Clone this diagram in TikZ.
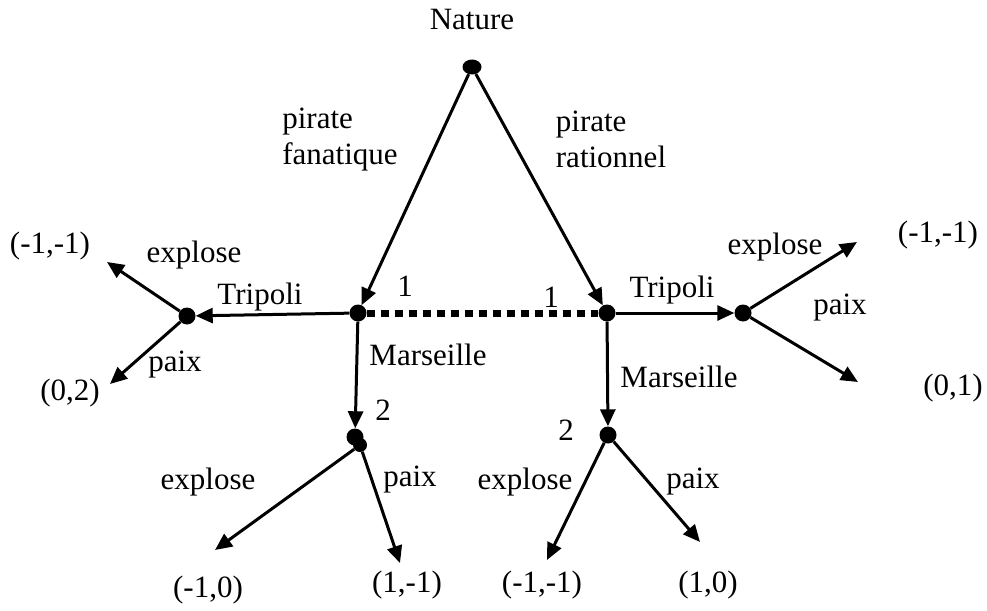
\documentclass[tikz,border=0pt]{standalone}
\usepackage{fontspec}
\setmainfont{Liberation Serif}
\usetikzlibrary{arrows.meta,shapes.geometric}
\begin{document}
\begin{tikzpicture}[x=1pt,y=-1pt,
  every node/.style={font=\fontsize{31}{36}\selectfont},
  dot/.style={circle,fill=black,inner sep=0pt,minimum size=17pt},
  edge/.style={line width=3pt,-{Triangle[length=17pt,width=15pt]}},
  lbl/.style={inner sep=0pt}]
\useasboundingbox (0,0) rectangle (987,610);
% decision nodes
\node[dot,ellipse,minimum width=19pt,minimum height=15pt] (N) at (472,67) {};
\node[dot] (L1) at (358,313) {};
\node[dot] (R1) at (607,313) {};
\node[dot] (LT) at (187,316) {};
\node[dot] (RT) at (743,313) {};
\node[dot] (L2) at (355,437) {};
\node[dot,minimum size=14pt] (L2b) at (360,445) {};
\node[dot] (R2) at (608,435) {};
% leaf tips
\coordinate (LTe) at (107,262);
\coordinate (LTp) at (110,384);
\coordinate (RTe) at (857,242);
\coordinate (RTp) at (858,382);
\coordinate (L2e) at (215,550);
\coordinate (L2p) at (400,563);
\coordinate (R2e) at (547,560);
\coordinate (R2p) at (700,542);
% information set
\draw[line width=7pt,dash pattern=on 8pt off 6pt] (L1) -- (R1);
% edges
\draw[edge] (N) -- (L1);
\draw[edge] (N) -- (R1);
\draw[edge] (L1) -- (LT);
\draw[edge] (R1) -- (RT);
\draw[edge] (L1) -- (L2);
\draw[edge] (R1) -- (R2);
\draw[edge] (LT) -- (LTe);
\draw[edge] (LT) -- (LTp);
\draw[edge] (RT) -- (RTe);
\draw[edge] (RT) -- (RTp);
\draw[edge] (L2b) -- (L2e);
\draw[edge] (L2b) -- (L2p);
\draw[edge] (R2) -- (R2e);
\draw[edge] (R2) -- (R2p);
% labels
\node[lbl] (tN) at (472,20) {Nature};
\node[lbl,align=left] (tPF) at (340,140) {pirate\\fanatique};
\node[lbl,align=left] (tPR) at (611,139) {pirate\\rationnel};
\node[lbl] (t1a) at (405,286) {1};
\node[lbl] (t1b) at (551,297) {1};
\node[lbl] (tTl) at (260,297) {Tripoli};
\node[lbl] (tTr) at (672,290) {Tripoli};
\node[lbl] (tLe) at (194,255) {explose};
\node[lbl] (tLp) at (175,365) {paix};
\node[lbl] (oLe) at (50,246) {(-1,-1)};
\node[lbl] (oLp) at (70,393) {(0,2)};
\node[lbl] (tRe) at (775,247) {explose};
\node[lbl] (tRp) at (840,308) {paix};
\node[lbl] (oRe) at (938,235) {(-1,-1)};
\node[lbl] (oRp) at (953,388) {(0,1)};
\node[lbl] (tMl) at (428,355) {Marseille};
\node[lbl] (tMr) at (679,377) {Marseille};
\node[lbl] (t2a) at (383,410) {2};
\node[lbl] (t2b) at (566,430) {2};
\node[lbl] (tBLe) at (208,482) {explose};
\node[lbl] (tBLp) at (410,480) {paix};
\node[lbl] (oBLe) at (208,590) {(-1,0)};
\node[lbl] (oBLp) at (407,585) {(1,-1)};
\node[lbl] (tBRe) at (525,482) {explose};
\node[lbl] (tBRp) at (693,482) {paix};
\node[lbl] (oBRe) at (542,585) {(-1,-1)};
\node[lbl] (oBRp) at (708,585) {(1,0)};
\end{tikzpicture}
\end{document}
